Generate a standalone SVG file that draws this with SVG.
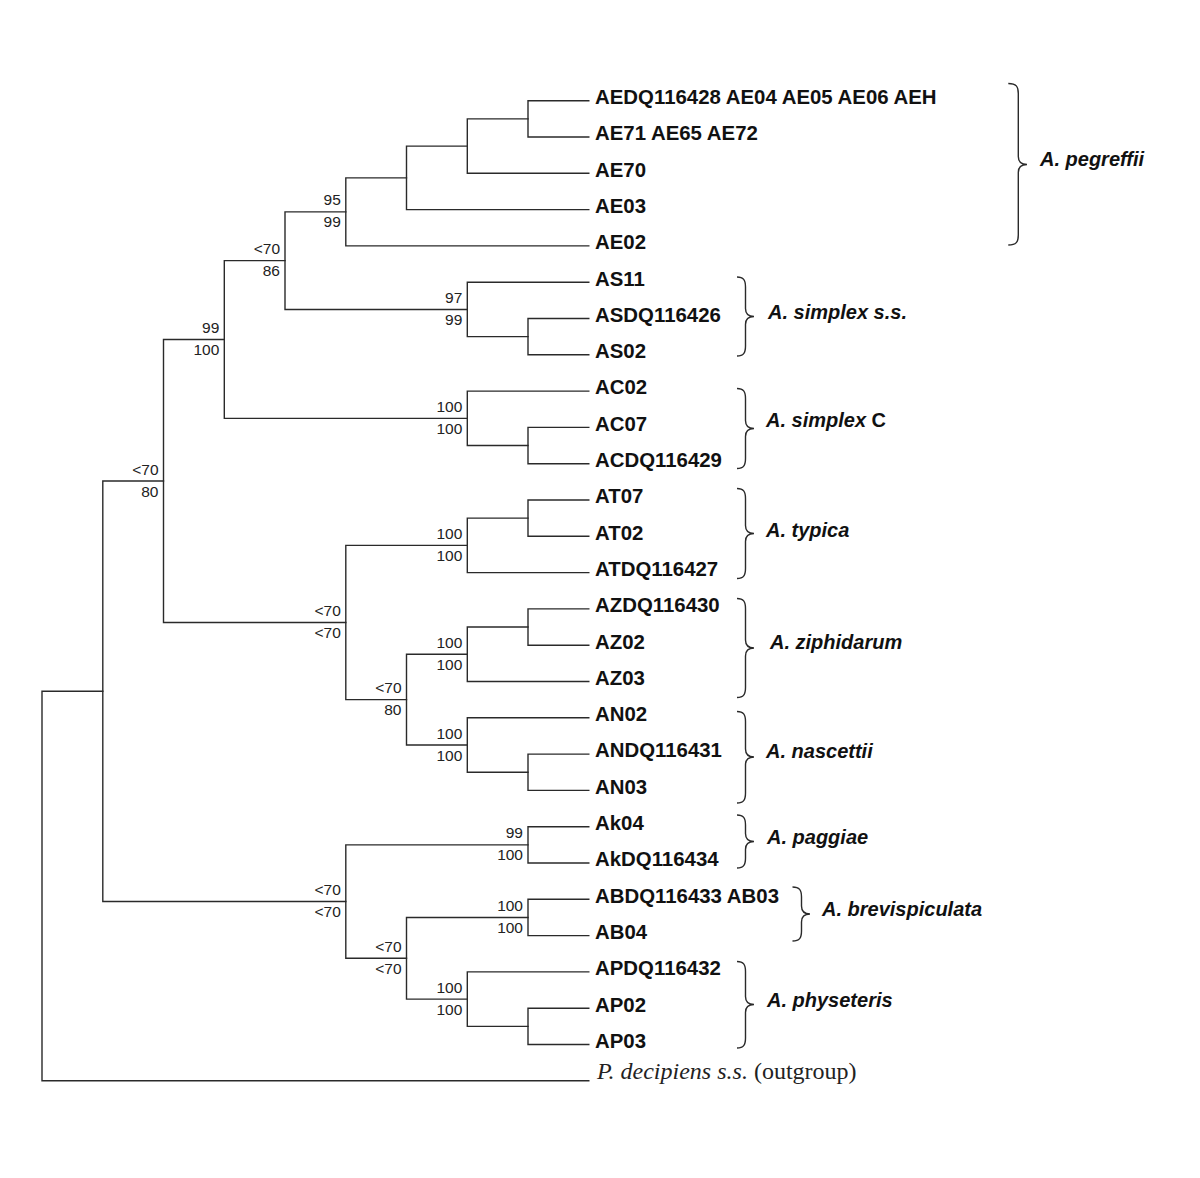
<svg xmlns="http://www.w3.org/2000/svg" width="1200" height="1178" viewBox="0 0 1200 1178">
<style>
.br{fill:none;stroke:#2a2a2a;stroke-width:1.4;stroke-linecap:square}
.bs{font-family:"Liberation Sans",Arial,sans-serif;font-size:15.5px;fill:#222;text-anchor:end}
.leaf{font-family:"Liberation Sans",Arial,sans-serif;font-size:20.4px;font-weight:bold;fill:#111}
.sp{font-family:"Liberation Sans",Arial,sans-serif;font-size:20px;font-weight:bold;font-style:italic;fill:#111}
.brace{fill:none;stroke:#2a2a2a;stroke-width:1.4}
.og{font-family:"Liberation Serif","Times New Roman",serif;font-size:24px;fill:#222}
</style>
<rect width="1200" height="1178" fill="#fff"/>
<g id="connectors" class="br">
<path d="M42 691.28V1080.8 M42 691.28H102.8 M42 1080.8H588.8"/>
<path d="M102.8 481V901.57 M102.8 481H163.5 M102.8 901.57H345.8"/>
<path d="M163.5 339.49V622.51 M163.5 339.49H224.3 M163.5 622.51H345.8"/>
<path d="M224.3 260.65V418.33 M224.3 260.65H285 M224.3 418.33H467.3"/>
<path d="M285 211.87V309.43 M285 211.87H345.8 M285 309.43H467.3"/>
<path d="M345.8 177.84V245.9 M345.8 177.84H406.5 M345.8 245.9H588.8"/>
<path d="M406.5 146.08V209.6 M406.5 146.08H467.3 M406.5 209.6H588.8"/>
<path d="M467.3 118.85V173.3 M467.3 118.85H528 M467.3 173.3H588.8"/>
<path d="M528 100.7V137 M528 100.7H588.8 M528 137H588.8"/>
<path d="M467.3 282.2V336.65 M467.3 282.2H588.8 M467.3 336.65H528"/>
<path d="M528 318.5V354.8 M528 318.5H588.8 M528 354.8H588.8"/>
<path d="M467.3 391.1V445.55 M467.3 391.1H588.8 M467.3 445.55H528"/>
<path d="M528 427.4V463.7 M528 427.4H588.8 M528 463.7H588.8"/>
<path d="M345.8 545.38V699.65 M345.8 545.38H467.3 M345.8 699.65H406.5"/>
<path d="M467.3 518.15V572.6 M467.3 518.15H528 M467.3 572.6H588.8"/>
<path d="M528 500V536.3 M528 500H588.8 M528 536.3H588.8"/>
<path d="M406.5 654.28V745.03 M406.5 654.28H467.3 M406.5 745.03H467.3"/>
<path d="M467.3 627.05V681.5 M467.3 627.05H528 M467.3 681.5H588.8"/>
<path d="M528 608.9V645.2 M528 608.9H588.8 M528 645.2H588.8"/>
<path d="M467.3 717.8V772.25 M467.3 717.8H588.8 M467.3 772.25H528"/>
<path d="M528 754.1V790.4 M528 754.1H588.8 M528 790.4H588.8"/>
<path d="M345.8 844.85V958.29 M345.8 844.85H528 M345.8 958.29H406.5"/>
<path d="M528 826.7V863 M528 826.7H588.8 M528 863H588.8"/>
<path d="M406.5 917.45V999.13 M406.5 917.45H528 M406.5 999.13H467.3"/>
<path d="M528 899.3V935.6 M528 899.3H588.8 M528 935.6H588.8"/>
<path d="M467.3 971.9V1026.35 M467.3 971.9H588.8 M467.3 1026.35H528"/>
<path d="M528 1008.2V1044.5 M528 1008.2H588.8 M528 1044.5H588.8"/>
</g>
<g id="support">
<text class="bs" x="340.8" y="205.4">95</text><text class="bs" x="340.8" y="227.4">99</text>
<text class="bs" x="280" y="254.2">&lt;70</text><text class="bs" x="280" y="276.2">86</text>
<text class="bs" x="462.3" y="302.9">97</text><text class="bs" x="462.3" y="324.9">99</text>
<text class="bs" x="219.3" y="333">99</text><text class="bs" x="219.3" y="355">100</text>
<text class="bs" x="462.3" y="411.8">100</text><text class="bs" x="462.3" y="433.8">100</text>
<text class="bs" x="158.5" y="474.5">&lt;70</text><text class="bs" x="158.5" y="496.5">80</text>
<text class="bs" x="462.3" y="538.9">100</text><text class="bs" x="462.3" y="560.9">100</text>
<text class="bs" x="340.8" y="616">&lt;70</text><text class="bs" x="340.8" y="638">&lt;70</text>
<text class="bs" x="462.3" y="647.8">100</text><text class="bs" x="462.3" y="669.8">100</text>
<text class="bs" x="401.5" y="693.2">&lt;70</text><text class="bs" x="401.5" y="715.2">80</text>
<text class="bs" x="462.3" y="738.5">100</text><text class="bs" x="462.3" y="760.5">100</text>
<text class="bs" x="523" y="838.4">99</text><text class="bs" x="523" y="860.4">100</text>
<text class="bs" x="340.8" y="895.1">&lt;70</text><text class="bs" x="340.8" y="917.1">&lt;70</text>
<text class="bs" x="523" y="911">100</text><text class="bs" x="523" y="933">100</text>
<text class="bs" x="401.5" y="951.8">&lt;70</text><text class="bs" x="401.5" y="973.8">&lt;70</text>
<text class="bs" x="462.3" y="992.6">100</text><text class="bs" x="462.3" y="1014.6">100</text>
</g>
<g id="leaves">
<text class="leaf" x="595" y="104">AEDQ116428 AE04 AE05 AE06 AEH</text>
<text class="leaf" x="595" y="140.3">AE71 AE65 AE72</text>
<text class="leaf" x="595" y="176.6">AE70</text>
<text class="leaf" x="595" y="212.9">AE03</text>
<text class="leaf" x="595" y="249.2">AE02</text>
<text class="leaf" x="595" y="285.5">AS11</text>
<text class="leaf" x="595" y="321.8">ASDQ116426</text>
<text class="leaf" x="595" y="358.1">AS02</text>
<text class="leaf" x="595" y="394.4">AC02</text>
<text class="leaf" x="595" y="430.7">AC07</text>
<text class="leaf" x="595" y="467">ACDQ116429</text>
<text class="leaf" x="595" y="503.3">AT07</text>
<text class="leaf" x="595" y="539.6">AT02</text>
<text class="leaf" x="595" y="575.9">ATDQ116427</text>
<text class="leaf" x="595" y="612.2">AZDQ116430</text>
<text class="leaf" x="595" y="648.5">AZ02</text>
<text class="leaf" x="595" y="684.8">AZ03</text>
<text class="leaf" x="595" y="721.1">AN02</text>
<text class="leaf" x="595" y="757.4">ANDQ116431</text>
<text class="leaf" x="595" y="793.7">AN03</text>
<text class="leaf" x="595" y="830">Ak04</text>
<text class="leaf" x="595" y="866.3">AkDQ116434</text>
<text class="leaf" x="595" y="902.6">ABDQ116433 AB03</text>
<text class="leaf" x="595" y="938.9">AB04</text>
<text class="leaf" x="595" y="975.2">APDQ116432</text>
<text class="leaf" x="595" y="1011.5">AP02</text>
<text class="leaf" x="595" y="1047.8">AP03</text>
<text class="og" x="597" y="1079"><tspan font-style="italic">P. decipiens s.s.</tspan> (outgroup)</text>
</g>
<g id="clade-pegreffii">
<path class="brace" d="M1008.3 83.5C1016.3 83.5 1018.3 86.5 1018.3 93.5V156.5C1018.3 161.5 1021.3 164.5 1027 164.5C1021.3 164.5 1018.3 167.5 1018.3 172.5V235C1018.3 242 1016.3 245 1008.3 245"/>
<text class="sp" x="1040" y="166">A. pegreffii</text>
</g>
<g id="clade-simplex-ss">
<path class="brace" d="M737 277C743.5 277 745.5 280 745.5 287V308.5C745.5 313.5 748.5 316.5 754 316.5C748.5 316.5 745.5 319.5 745.5 324.5V346C745.5 353 743.5 356 737 356"/>
<text class="sp" x="768" y="318.5">A. simplex s.s.</text>
</g>
<g id="clade-simplex-c">
<path class="brace" d="M737 388.5C743.5 388.5 745.5 391.5 745.5 398.5V420.5C745.5 425.5 748.5 428.5 754 428.5C748.5 428.5 745.5 431.5 745.5 436.5V458.5C745.5 465.5 743.5 468.5 737 468.5"/>
<text class="sp" x="766" y="427">A. simplex<tspan font-style="normal"> C</tspan></text>
</g>
<g id="clade-typica">
<path class="brace" d="M737 488.5C743.5 488.5 745.5 491.5 745.5 498.5V525.5C745.5 530.5 748.5 533.5 754 533.5C748.5 533.5 745.5 536.5 745.5 541.5V568.5C745.5 575.5 743.5 578.5 737 578.5"/>
<text class="sp" x="766" y="537">A. typica</text>
</g>
<g id="clade-ziphidarum">
<path class="brace" d="M737 598.5C743.5 598.5 745.5 601.5 745.5 608.5V640C745.5 645 748.5 648 754 648C748.5 648 745.5 651 745.5 656V687.5C745.5 694.5 743.5 697.5 737 697.5"/>
<text class="sp" x="770" y="649">A. ziphidarum</text>
</g>
<g id="clade-nascettii">
<path class="brace" d="M737 711.5C743.5 711.5 745.5 714.5 745.5 721.5V749C745.5 754 748.5 757 754 757C748.5 757 745.5 760 745.5 765V793C745.5 800 743.5 803 737 803"/>
<text class="sp" x="766" y="757.5">A. nascettii</text>
</g>
<g id="clade-paggiae">
<path class="brace" d="M737 815C743.5 815 745.5 818 745.5 825V833.5C745.5 838.5 748.5 841.5 754 841.5C748.5 841.5 745.5 844.5 745.5 849.5V858C745.5 865 743.5 868 737 868"/>
<text class="sp" x="767" y="843.5">A. paggiae</text>
</g>
<g id="clade-brevispiculata">
<path class="brace" d="M792.5 887C799.5 887 801.5 890 801.5 897V906C801.5 911 804.5 914 810 914C804.5 914 801.5 917 801.5 922V931C801.5 938 799.5 941 792.5 941"/>
<text class="sp" x="822" y="915.5">A. brevispiculata</text>
</g>
<g id="clade-physeteris">
<path class="brace" d="M737 961.5C743.5 961.5 745.5 964.5 745.5 971.5V996.5C745.5 1001.5 748.5 1004.5 754 1004.5C748.5 1004.5 745.5 1007.5 745.5 1012.5V1038C745.5 1045 743.5 1048 737 1048"/>
<text class="sp" x="767" y="1007">A. physeteris</text>
</g>
</svg>
